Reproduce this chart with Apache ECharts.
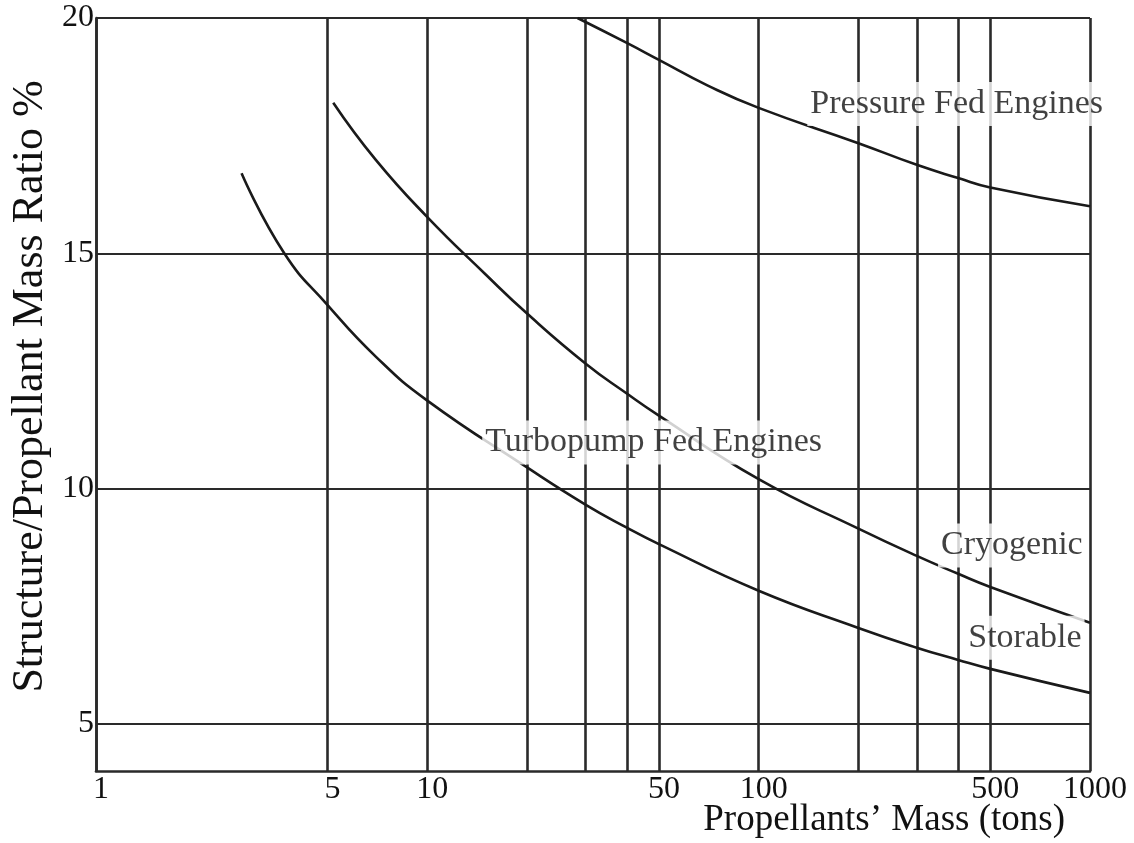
<!DOCTYPE html>
<html>
<head>
<meta charset="utf-8">
<title>Structure/Propellant Mass Ratio</title>
<script src="https://cdn.jsdelivr.net/npm/echarts@6/dist/echarts.min.js"></script>
<style>
  html, body { margin: 0; padding: 0; background: #ffffff; }
  #chart { width: 1134px; height: 843px; }
</style>
</head>
<body>
<div id="chart"></div>
<script>
// Propellant mass (tons) on a log axis: grid lines and tick labels
const massGridValues = [1, 5, 10, 20, 30, 40, 50, 100, 200, 300, 400, 500, 1000];
const massLabelValues = [1, 5, 10, 50, 100, 500, 1000];
// Structure/propellant mass ratio (%) grid and labels
const ratioGridValues = [5, 10, 15, 20];

// Curves: [propellant mass (tons), structure/propellant ratio (%)]
const pressureFed = [
  [28.4, 20.0], [40, 19.47], [50, 19.11], [70, 18.57], [100, 18.09],
  [200, 17.34], [300, 16.88], [400, 16.60], [500, 16.40], [1000, 16.0]
];
const cryogenic = [
  [5.2, 18.2], [7, 16.98], [10, 15.77], [15, 14.55], [20, 13.72], [30, 12.66],
  [40, 12.02], [50, 11.55], [100, 10.2], [200, 9.15], [300, 8.57],
  [400, 8.19], [500, 7.91], [1000, 7.15]
];
const storable = [
  [2.75, 16.7], [3.7, 15.0], [5, 13.9], [7, 12.8], [10, 11.87],
  [20, 10.45], [30, 9.66], [40, 9.17], [50, 8.82], [100, 7.83],
  [200, 7.04], [300, 6.62], [400, 6.36], [500, 6.17], [1000, 5.66]
];

// Curve captions
const captionTexts = ['Pressure Fed Engines', 'Turbopump Fed Engines', 'Cryogenic', 'Storable'];

const ink = '#111111';
const serif = '"Liberation Serif", "DejaVu Serif", serif';

// Caption anchors in data space (mass, ratio)
const captionAnchors = [[396, 18.17], [48.2, 10.98], [581, 8.79], [636, 6.83]];

function curve(name, data) {
  return {
    name: name,
    type: 'line',
    data: data,
    smooth: 0.5,
    showSymbol: false,
    symbol: 'none',
    z: 3,
    lineStyle: { color: '#1a1a1a', width: 2.6 },
    emphasis: { disabled: true },
    silent: true
  };
}

const chart = echarts.init(document.getElementById('chart'), null, { renderer: 'canvas' });

chart.setOption({
  animation: false,
  backgroundColor: '#ffffff',
  grid: {
    left: 96, right: 44, top: 18, bottom: 72,
    containLabel: false,
    outerBoundsMode: 'none'
  },
  xAxis: {
    type: 'log',
    logBase: 10,
    min: 1,
    max: 1000,
    name: 'Propellants\u2019 Mass (tons)',
    nameLocation: 'end',
    nameGap: -25,
    nameMoveOverlap: false,
    nameTextStyle: {
      fontFamily: serif, fontSize: 37, color: ink,
      align: 'right', verticalAlign: 'top', padding: [31, 0, 0, 0]
    },
    axisLine: { show: true, lineStyle: { color: '#2a2a2a', width: 2.6 } },
    axisTick: { show: false, customValues: massGridValues },
    axisLabel: {
      customValues: massLabelValues,
      formatter: function (v) { return String(Math.round(v)); },
      fontFamily: serif, fontSize: 32, color: ink, margin: 3,
      padding: [0, 0, 0, 10],
      hideOverlap: false
    },
    splitLine: { show: true, lineStyle: { color: '#2a2a2a', width: 2.6 } },
    minorTick: { show: false },
    minorSplitLine: { show: false }
  },
  yAxis: {
    type: 'value',
    min: 4,
    max: 20,
    name: 'Structure/Propellant Mass Ratio %',
    nameLocation: 'middle',
    nameGap: 44,
    nameRotate: 90,
    nameMoveOverlap: false,
    nameTextStyle: { fontFamily: serif, fontSize: 44, color: ink, padding: [0, 0, 0, 16] },
    axisLine: { show: true, lineStyle: { color: '#2a2a2a', width: 2.6 } },
    axisTick: { show: false, customValues: ratioGridValues },
    axisLabel: {
      customValues: ratioGridValues,
      fontFamily: serif, fontSize: 32, color: ink, margin: 2
    },
    splitLine: { show: true, lineStyle: { color: '#2a2a2a', width: 2 } }
  },
  series: [
    curve('Pressure Fed Engines', pressureFed),
    curve('Cryogenic', cryogenic),
    curve('Storable', storable),
    {
      name: 'captions',
      type: 'scatter',
      symbolSize: 0,
      z: 10,
      silent: true,
      data: captionTexts.map(function (t, i) {
        return { name: t, value: captionAnchors[i] };
      }),
      label: {
        show: true,
        position: 'inside',
        formatter: '{b}',
        fontFamily: serif,
        fontSize: 34,
        color: ink,
        backgroundColor: '#ffffff',
        padding: [6, 3, 4, 3]
      }
    }
  ]
});
</script>
</body>
</html>
